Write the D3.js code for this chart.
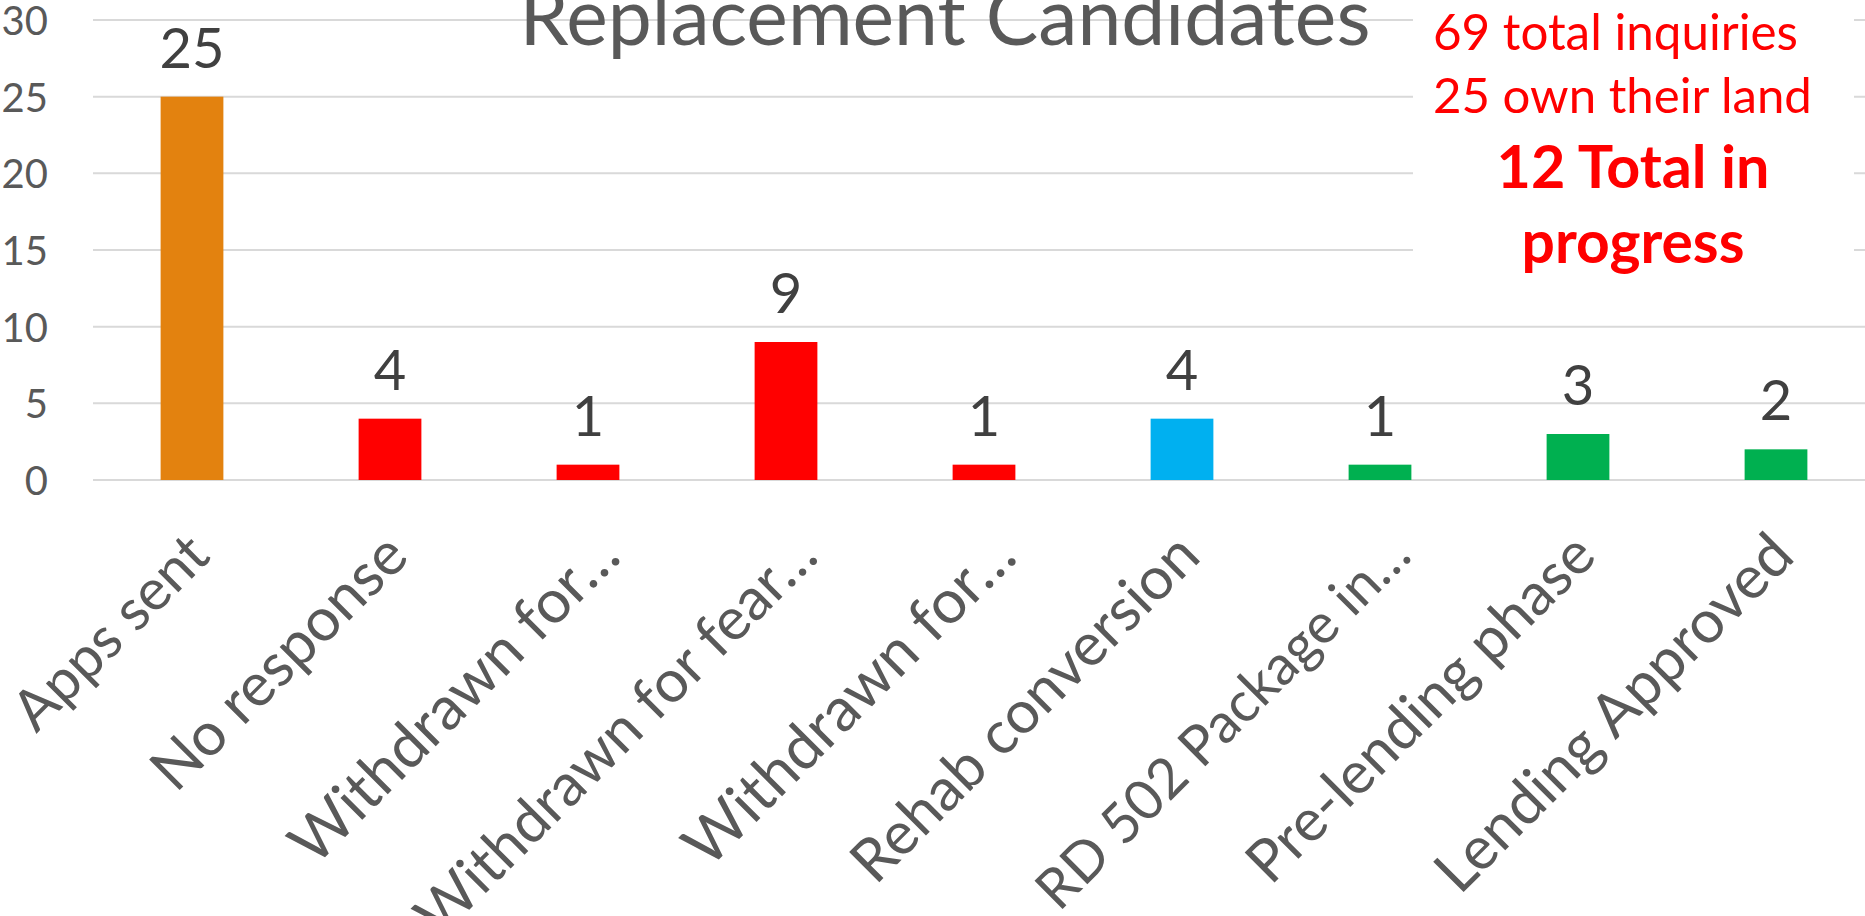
<!DOCTYPE html>
<html>
<head>
<meta charset="utf-8">
<script src="https://cdn.jsdelivr.net/npm/d3@7"></script>
<style>
  body { margin: 0; background: #fff; overflow: hidden; }
  text { font-family: Lato, "Open Sans", sans-serif; }
</style>
</head>
<body>
<script>
// chart data
var categories = ["Apps sent", "No response", "Withdrawn for\u2026", "Withdrawn for fear\u2026",
    "Withdrawn for\u2026", "Rehab conversion", "RD 502 Package in\u2026", "Pre-lending phase",
    "Lending Approved"];
var values = [25, 4, 1, 9, 1, 4, 1, 3, 2];
var barColors = ["#E3820F", "#FF0000", "#FF0000", "#FF0000", "#FF0000", "#00B0F0", "#00B050", "#00B050", "#00B050"];
var yTicks = [0, 5, 10, 15, 20, 25, 30];
var titleText = "Replacement Candidates";
var noteLines = ["69 total inquiries", "25 own their land"];
var noteBold = ["12 Total in", "progress"];

var width = 1865, height = 916;

var svg = d3.select("body").append("svg")
    .attr("width", width)
    .attr("height", height);

// scales
var x = d3.scaleBand()
    .domain(d3.range(categories.length))
    .range([93, 93 + 198 * categories.length])
    .paddingInner(0.683)
    .paddingOuter(0.683 / 2);

var y = d3.scaleLinear().domain([0, 30]).range([480, 20]);

// shrink/grow a text so its width matches the wanted one
function fitWidth(sel, target) {
    sel.each(function() {
        var fs = parseFloat(d3.select(this).style("font-size"));
        var w = this.getComputedTextLength();
        d3.select(this).style("font-size", (fs * target / w) + "px");
    });
}

// gridlines
svg.append("g")
    .selectAll("line")
    .data(yTicks)
    .enter().append("line")
    .attr("x1", 93)
    .attr("x2", width)
    .attr("y1", function(d) { return y(d); })
    .attr("y2", function(d) { return y(d); })
    .attr("stroke", "#D9D9D9")
    .attr("stroke-width", 2);

// y axis labels
var yAxis = d3.axisLeft(y).tickValues(yTicks).tickSize(0).tickPadding(0);
var yg = svg.append("g")
    .attr("transform", "translate(48,0)")
    .call(yAxis);
yg.select(".domain").remove();
yg.selectAll("text")
    .attr("fill", "#595959")
    .style("font-size", "40px")
    .attr("dy", "0.36em");

// bars
svg.append("g")
    .selectAll("rect")
    .data(values)
    .enter().append("rect")
    .attr("x", function(d, i) { return x(i); })
    .attr("y", function(d) { return y(d); })
    .attr("width", x.bandwidth())
    .attr("height", function(d) { return y(0) - y(d); })
    .attr("fill", function(d, i) { return barColors[i]; });

// value labels
svg.append("g")
    .selectAll("text")
    .data(values)
    .enter().append("text")
    .attr("x", function(d, i) { return x(i) + x.bandwidth() / 2; })
    .attr("y", function(d) { return y(d) - 29; })
    .attr("text-anchor", "middle")
    .attr("fill", "#404040")
    .style("font-size", "56px")
    .text(function(d) { return d; });

// category labels, rotated
var xAxis = d3.axisBottom(x).tickSize(0).tickFormat(function(i) { return categories[i]; });
var xg = svg.append("g")
    .attr("transform", "translate(0,480)")
    .call(xAxis);
xg.select(".domain").remove();
xg.selectAll("text")
    .attr("fill", "#595959")
    .style("font-size", "60px")
    .attr("text-anchor", "end")
    .attr("y", 0)
    .attr("dy", "0.35em")
    .attr("transform", function(i) {
        // truncated labels sit a little further right
        var shift = /\u2026$/.test(categories[i]) ? 20 : 6;
        return "translate(" + shift + ",64) rotate(-45)";
    });

// horizontal span each slanted label takes in the original (Calibri) layout
var labelSpan = [200, 262, 336, 407, 339, 354, 378, 354, 364];
xg.selectAll("text").each(function(d, i) {
    var t = d3.select(this);
    for (var k = 0; k < 2; k++) {
        var fs = parseFloat(t.style("font-size"));
        var w = this.getBoundingClientRect().width;
        t.style("font-size", (fs * (labelSpan[i] + 24) / w) + "px");
    }
});

// title
var title = svg.append("text")
    .attr("x", 945)
    .attr("y", 45)
    .attr("text-anchor", "middle")
    .attr("fill", "#595959")
    .style("font-size", "80px")
    .text(titleText);
fitWidth(title, 851);

// note box in the top right
svg.append("rect")
    .attr("x", 1413)
    .attr("y", 0)
    .attr("width", 441)
    .attr("height", 290)
    .attr("fill", "#fff");

var noteWidths = [365, 379];
svg.append("g")
    .selectAll("text")
    .data(noteLines)
    .enter().append("text")
    .attr("x", 1433)
    .attr("y", function(d, i) { return 50 + i * 63; })
    .attr("fill", "#FF0000")
    .style("font-size", "48px")
    .text(function(d) { return d; })
    .each(function(d, i) { fitWidth(d3.select(this), noteWidths[i]); });

var boldWidths = [273, 223];
svg.append("g")
    .selectAll("text")
    .data(noteBold)
    .enter().append("text")
    .attr("x", 1633)
    .attr("y", function(d, i) { return 188 + i * 75; })
    .attr("text-anchor", "middle")
    .attr("fill", "#FF0000")
    .style("font-weight", "bold")
    .style("font-size", "60px")
    .text(function(d) { return d; })
    .each(function(d, i) { fitWidth(d3.select(this), boldWidths[i]); });
</script>
</body>
</html>
